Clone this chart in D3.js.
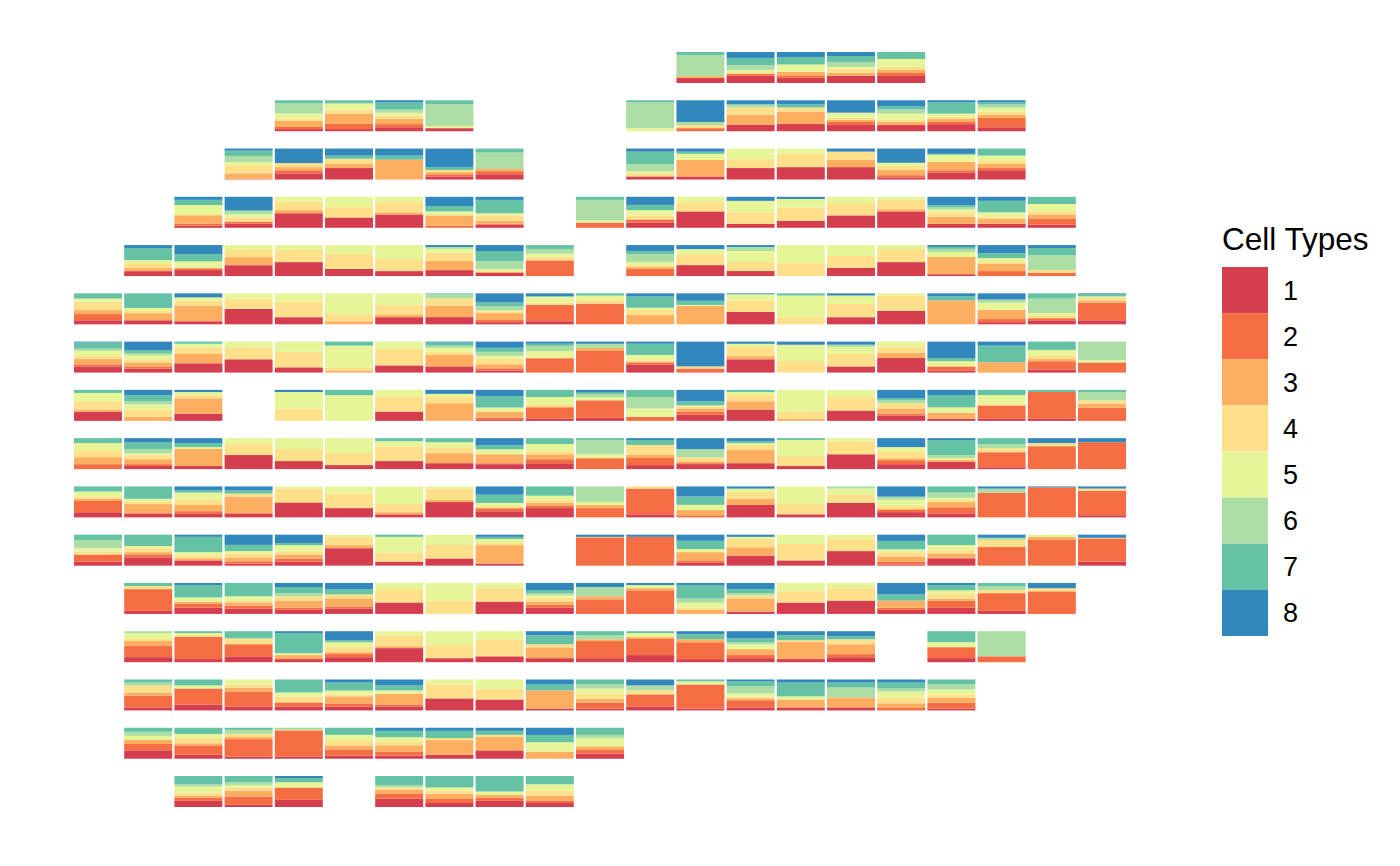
<!DOCTYPE html>
<html>
<head>
<meta charset="utf-8">
<script src="https://cdn.jsdelivr.net/npm/d3@7"></script>
<style>
    body { margin: 0; background: #fff; }
    text { font-family: "Liberation Sans", Arial, sans-serif; fill: #000; }
</style>
</head>
<body>
<svg id="chart" width="1400" height="866"></svg>
<script>
let cellTypes = ["1", "2", "3", "4", "5", "6", "7", "8"];
let typeColours = ["#D53E4F", "#F46D43", "#FDAE61", "#FEE08B", "#E6F598", "#ABDDA4", "#66C2A5", "#3288BD"];

// each spot: [column, share of type 1 .. type 8] (percent)
let row00 = [
    [12, 16, 0, 6, 0, 0, 68, 10, 0], [13, 23, 6, 0, 6, 6, 16, 23, 19], [14, 16, 6, 13, 0, 23, 0, 23, 16],
    [15, 23, 0, 10, 13, 6, 16, 19, 13], [16, 23, 10, 10, 10, 26, 0, 23, 0],
];
let row01 = [
    [4, 7, 7, 20, 7, 17, 33, 10, 0], [5, 7, 17, 33, 13, 20, 0, 10, 0], [6, 13, 10, 17, 10, 10, 10, 23, 7],
    [7, 10, 0, 0, 0, 7, 70, 13, 0], [11, 0, 0, 0, 0, 10, 83, 7, 0], [12, 0, 10, 0, 10, 0, 10, 0, 70],
    [13, 20, 0, 33, 23, 0, 10, 0, 13], [14, 23, 0, 40, 13, 0, 0, 10, 13], [15, 20, 10, 7, 7, 16, 0, 0, 40],
    [16, 20, 0, 10, 7, 20, 13, 10, 20], [17, 23, 7, 10, 7, 10, 0, 36, 7], [18, 13, 30, 10, 10, 13, 10, 7, 7],
];
let row02 = [
    [3, 0, 3, 17, 27, 10, 20, 17, 7], [4, 20, 10, 10, 13, 0, 0, 0, 47], [5, 37, 0, 13, 17, 0, 0, 10, 23],
    [6, 0, 0, 64, 0, 0, 0, 13, 23], [7, 10, 7, 7, 7, 0, 0, 10, 60], [8, 17, 10, 7, 0, 0, 53, 13, 0],
    [11, 10, 0, 0, 10, 7, 23, 40, 10], [12, 10, 0, 53, 0, 20, 0, 7, 10], [13, 37, 0, 0, 30, 33, 0, 0, 0],
    [14, 40, 0, 0, 43, 17, 0, 0, 0], [15, 40, 0, 23, 27, 0, 0, 0, 10], [16, 7, 7, 17, 13, 10, 0, 0, 46],
    [17, 23, 7, 27, 0, 23, 0, 3, 17], [18, 30, 7, 13, 10, 17, 0, 23, 0],
];
let row03 = [
    [2, 7, 7, 27, 0, 33, 0, 17, 10], [3, 13, 7, 0, 13, 10, 10, 3, 43], [4, 47, 0, 10, 27, 16, 0, 0, 0],
    [5, 33, 0, 0, 33, 33, 0, 0, 0], [6, 43, 0, 7, 33, 17, 0, 0, 0], [7, 0, 7, 33, 0, 13, 0, 17, 30],
    [8, 10, 3, 10, 17, 7, 0, 43, 10], [10, 0, 17, 0, 0, 7, 66, 10, 0], [11, 17, 10, 0, 13, 17, 0, 17, 26],
    [12, 53, 0, 0, 30, 17, 0, 0, 0], [13, 13, 0, 0, 37, 37, 0, 0, 13], [14, 23, 0, 0, 43, 27, 0, 0, 7],
    [15, 40, 0, 0, 40, 20, 0, 0, 0], [16, 53, 0, 7, 30, 10, 0, 0, 0], [17, 13, 0, 23, 13, 10, 7, 7, 27],
    [18, 13, 0, 17, 7, 13, 0, 37, 13], [19, 10, 20, 13, 10, 23, 0, 23, 0],
];
let row04 = [
    [1, 16, 0, 10, 16, 10, 0, 39, 10], [2, 19, 6, 0, 3, 19, 0, 23, 29], [3, 35, 0, 26, 23, 16, 0, 0, 0],
    [4, 45, 0, 0, 39, 16, 0, 0, 0], [5, 23, 0, 0, 48, 29, 0, 0, 0], [6, 16, 0, 0, 39, 45, 0, 0, 0],
    [7, 19, 0, 29, 26, 13, 6, 0, 6], [8, 10, 0, 3, 3, 6, 26, 32, 19], [9, 0, 52, 3, 10, 10, 16, 13, 0],
    [11, 0, 23, 6, 6, 10, 26, 10, 19], [12, 35, 0, 0, 35, 16, 0, 0, 13], [13, 16, 0, 0, 29, 35, 13, 0, 6],
    [14, 0, 0, 0, 42, 58, 0, 0, 0], [15, 26, 0, 0, 39, 35, 0, 0, 0], [16, 45, 0, 0, 42, 13, 0, 0, 0],
    [17, 6, 0, 55, 0, 16, 10, 6, 6], [18, 0, 16, 23, 6, 13, 0, 16, 26], [19, 0, 10, 0, 10, 0, 48, 23, 10],
];
let row05 = [
    [0, 13, 20, 13, 27, 10, 0, 17, 0], [1, 13, 0, 23, 7, 10, 0, 47, 0], [2, 10, 0, 50, 17, 10, 0, 0, 13],
    [3, 50, 0, 0, 33, 17, 0, 0, 0], [4, 23, 0, 0, 50, 27, 0, 0, 0], [5, 0, 0, 10, 23, 67, 0, 0, 0],
    [6, 23, 0, 7, 33, 37, 0, 0, 0], [7, 23, 0, 37, 23, 0, 13, 3, 0], [8, 7, 7, 23, 6, 3, 13, 13, 30],
    [9, 10, 53, 0, 7, 20, 0, 0, 10], [10, 0, 67, 0, 13, 13, 0, 7, 0], [11, 0, 0, 30, 17, 7, 0, 37, 10],
    [12, 0, 0, 57, 0, 3, 0, 13, 23], [13, 40, 0, 0, 37, 20, 0, 0, 3], [14, 0, 0, 0, 23, 70, 0, 7, 0],
    [15, 23, 0, 0, 43, 27, 0, 0, 7], [16, 43, 0, 0, 50, 7, 0, 0, 0], [17, 0, 0, 77, 0, 0, 0, 13, 10],
    [18, 7, 10, 30, 0, 23, 10, 0, 20], [19, 13, 7, 0, 10, 7, 47, 17, 0], [20, 13, 57, 7, 10, 3, 0, 7, 3],
];
let row06 = [
    [0, 20, 7, 17, 10, 17, 7, 20, 3], [1, 13, 7, 13, 10, 13, 7, 10, 27], [2, 30, 0, 30, 20, 13, 0, 7, 0],
    [3, 43, 0, 0, 37, 20, 0, 0, 0], [4, 17, 0, 0, 50, 33, 0, 0, 0], [5, 0, 0, 7, 10, 70, 0, 13, 0],
    [6, 23, 0, 0, 53, 23, 0, 0, 0], [7, 20, 0, 37, 10, 13, 7, 10, 3], [8, 7, 7, 13, 17, 10, 13, 13, 20],
    [9, 0, 47, 0, 3, 20, 17, 7, 7], [10, 0, 70, 10, 0, 0, 13, 0, 7], [11, 27, 7, 0, 7, 17, 0, 37, 7],
    [12, 0, 13, 0, 7, 0, 0, 0, 80], [13, 43, 0, 10, 30, 10, 0, 0, 7], [14, 0, 0, 0, 37, 53, 0, 0, 10],
    [15, 20, 0, 0, 40, 23, 7, 0, 10], [16, 47, 0, 17, 20, 16, 0, 0, 0], [17, 7, 13, 0, 0, 17, 0, 10, 53],
    [18, 0, 0, 33, 0, 0, 0, 53, 13], [19, 10, 27, 7, 13, 17, 0, 27, 0], [20, 0, 33, 0, 0, 7, 60, 0, 0],
];
let row07 = [
    [0, 30, 0, 7, 27, 27, 0, 10, 0], [1, 0, 0, 13, 23, 17, 10, 20, 17], [2, 23, 0, 50, 10, 10, 0, 0, 7],
    [4, 0, 0, 0, 40, 53, 0, 0, 7], [5, 0, 0, 0, 0, 83, 0, 17, 0], [6, 30, 0, 0, 47, 23, 0, 0, 0],
    [7, 0, 0, 57, 20, 10, 0, 0, 13], [8, 3, 7, 20, 0, 13, 0, 37, 20], [9, 7, 37, 0, 10, 23, 0, 23, 0],
    [10, 10, 57, 0, 0, 10, 10, 7, 7], [11, 0, 13, 0, 0, 27, 37, 23, 0], [12, 20, 10, 10, 7, 3, 0, 13, 37],
    [13, 37, 0, 27, 20, 10, 0, 7, 0], [14, 0, 0, 7, 23, 70, 0, 0, 0], [15, 33, 0, 0, 43, 23, 0, 0, 0],
    [16, 17, 7, 17, 17, 0, 10, 7, 27], [17, 7, 0, 20, 0, 17, 0, 40, 17], [18, 7, 43, 0, 7, 27, 0, 17, 0],
    [19, 7, 87, 0, 0, 0, 0, 7, 0], [20, 0, 43, 13, 10, 0, 27, 7, 0],
];
let row08 = [
    [0, 0, 16, 23, 23, 23, 0, 16, 0], [1, 10, 6, 16, 13, 6, 13, 23, 13], [2, 10, 0, 55, 0, 6, 0, 13, 16],
    [3, 45, 0, 0, 35, 19, 0, 0, 0], [4, 26, 0, 0, 39, 35, 0, 0, 0], [5, 13, 0, 0, 39, 48, 0, 0, 0],
    [6, 26, 0, 0, 48, 16, 0, 10, 0], [7, 19, 0, 32, 19, 16, 0, 13, 0], [8, 16, 3, 29, 0, 16, 0, 13, 23],
    [9, 19, 13, 16, 10, 23, 0, 19, 0], [10, 0, 35, 0, 0, 13, 45, 6, 0], [11, 13, 23, 10, 32, 0, 0, 16, 6],
    [12, 16, 3, 6, 13, 0, 26, 0, 35], [13, 19, 0, 42, 16, 6, 0, 6, 10], [14, 10, 0, 0, 32, 52, 0, 6, 0],
    [15, 48, 0, 0, 42, 10, 0, 0, 0], [16, 16, 13, 6, 23, 13, 0, 0, 29], [17, 23, 0, 6, 3, 3, 10, 48, 6],
    [18, 6, 48, 0, 13, 0, 13, 19, 0], [19, 0, 74, 0, 10, 0, 0, 0, 16], [20, 0, 87, 0, 0, 0, 0, 0, 13],
];
let row09 = [
    [0, 17, 37, 7, 7, 17, 0, 17, 0], [1, 13, 0, 30, 7, 10, 0, 40, 0], [2, 13, 7, 20, 17, 23, 0, 7, 13],
    [3, 13, 0, 53, 10, 0, 0, 10, 13], [4, 47, 0, 3, 43, 7, 0, 0, 0], [5, 30, 0, 0, 47, 23, 0, 0, 0],
    [6, 10, 0, 7, 27, 57, 0, 0, 0], [7, 50, 0, 7, 37, 7, 0, 0, 0], [8, 20, 10, 0, 7, 10, 0, 27, 27],
    [9, 30, 7, 10, 10, 13, 0, 30, 0], [10, 0, 30, 10, 0, 10, 50, 0, 0], [11, 10, 83, 0, 7, 0, 0, 0, 0],
    [12, 0, 7, 17, 0, 17, 0, 27, 33], [13, 40, 0, 20, 23, 10, 0, 0, 7], [14, 10, 0, 0, 33, 57, 0, 0, 0],
    [15, 47, 0, 0, 27, 20, 7, 0, 0], [16, 17, 7, 3, 10, 20, 10, 0, 33], [17, 13, 20, 17, 7, 7, 17, 20, 0],
    [18, 0, 80, 0, 0, 0, 13, 0, 7], [19, 0, 97, 0, 0, 0, 0, 0, 3], [20, 7, 80, 0, 7, 0, 0, 0, 7],
];
let row10 = [
    [0, 13, 23, 0, 10, 10, 27, 17, 0], [1, 27, 10, 7, 13, 7, 0, 37, 0], [2, 17, 0, 7, 10, 10, 0, 50, 7],
    [3, 7, 7, 13, 13, 7, 0, 20, 33], [4, 13, 10, 13, 10, 20, 0, 7, 27], [5, 57, 0, 10, 27, 7, 0, 0, 0],
    [6, 13, 0, 0, 30, 50, 0, 7, 0], [7, 23, 0, 0, 43, 33, 0, 0, 0], [8, 7, 0, 60, 7, 13, 0, 7, 7],
    [10, 0, 90, 3, 0, 0, 0, 0, 7], [11, 0, 93, 0, 0, 0, 0, 0, 7], [12, 10, 7, 27, 0, 10, 0, 27, 20],
    [13, 33, 0, 27, 27, 7, 0, 0, 7], [14, 17, 0, 0, 53, 30, 0, 0, 0], [15, 47, 0, 0, 40, 13, 0, 0, 0],
    [16, 3, 10, 17, 13, 10, 0, 27, 20], [17, 23, 3, 13, 10, 17, 0, 33, 0], [18, 0, 60, 0, 23, 0, 7, 0, 10],
    [19, 0, 83, 10, 0, 7, 0, 0, 0], [20, 13, 73, 3, 0, 0, 0, 0, 10],
];
let row11 = [
    [1, 10, 70, 0, 10, 0, 0, 10, 0], [2, 20, 13, 7, 0, 13, 0, 40, 7], [3, 17, 10, 10, 7, 13, 0, 43, 0],
    [4, 13, 7, 23, 13, 0, 10, 20, 13], [5, 17, 7, 27, 13, 0, 0, 17, 20], [6, 37, 0, 0, 43, 20, 0, 0, 0],
    [7, 0, 0, 0, 43, 57, 0, 0, 0], [8, 40, 0, 0, 43, 17, 0, 0, 0], [9, 20, 10, 10, 13, 7, 7, 10, 23],
    [10, 0, 47, 10, 0, 0, 30, 0, 13], [11, 0, 77, 7, 0, 10, 0, 0, 7], [12, 0, 0, 13, 7, 17, 13, 43, 7],
    [13, 7, 0, 43, 10, 0, 7, 13, 20], [14, 37, 0, 0, 37, 27, 0, 0, 0], [15, 43, 0, 0, 40, 17, 0, 0, 0],
    [16, 13, 7, 23, 0, 0, 0, 20, 37], [17, 20, 23, 7, 17, 10, 0, 17, 7], [18, 10, 57, 0, 10, 0, 13, 10, 0],
    [19, 0, 73, 0, 10, 0, 0, 0, 17],
];
let row12 = [
    [1, 16, 35, 16, 6, 19, 6, 0, 0], [2, 10, 71, 0, 6, 6, 0, 6, 0], [3, 19, 39, 0, 19, 0, 0, 23, 0],
    [4, 10, 0, 13, 0, 6, 0, 65, 6], [5, 16, 10, 6, 16, 16, 0, 6, 29], [6, 45, 0, 6, 35, 13, 0, 0, 0],
    [7, 13, 0, 0, 42, 45, 0, 0, 0], [8, 19, 0, 0, 55, 26, 0, 0, 0], [9, 13, 0, 35, 10, 0, 0, 29, 13],
    [10, 13, 55, 6, 0, 0, 13, 13, 0], [11, 23, 52, 6, 0, 13, 0, 6, 0], [12, 10, 55, 10, 0, 0, 0, 16, 10],
    [13, 13, 10, 19, 0, 16, 6, 13, 23], [14, 10, 0, 55, 6, 0, 0, 16, 13], [15, 16, 10, 32, 16, 0, 0, 10, 16],
    [17, 13, 35, 0, 0, 16, 0, 35, 0], [18, 0, 19, 0, 0, 0, 81, 0, 0],
];
let row13 = [
    [1, 10, 39, 10, 23, 0, 10, 10, 0], [2, 19, 52, 0, 0, 10, 0, 19, 0], [3, 13, 48, 13, 10, 16, 0, 0, 0],
    [4, 13, 13, 0, 19, 13, 0, 42, 0], [5, 13, 10, 23, 6, 13, 0, 26, 10], [6, 13, 6, 35, 0, 10, 0, 16, 19],
    [7, 39, 0, 0, 45, 16, 0, 0, 0], [8, 35, 0, 0, 35, 29, 0, 0, 0], [9, 6, 0, 58, 0, 0, 0, 19, 16],
    [10, 6, 19, 13, 16, 16, 13, 16, 0], [11, 13, 39, 0, 13, 0, 16, 0, 19], [12, 6, 77, 0, 0, 10, 0, 6, 0],
    [13, 10, 23, 6, 6, 10, 23, 16, 6], [14, 10, 0, 26, 0, 10, 0, 45, 10], [15, 10, 0, 32, 0, 0, 32, 16, 10],
    [16, 0, 10, 13, 19, 19, 10, 19, 10], [17, 6, 19, 16, 10, 16, 16, 16, 0],
];
let row14 = [
    [1, 27, 20, 13, 0, 13, 13, 13, 0], [2, 13, 30, 7, 17, 13, 0, 20, 0], [3, 7, 57, 7, 10, 0, 13, 7, 0],
    [4, 7, 83, 3, 0, 0, 7, 0, 0], [5, 10, 20, 13, 17, 17, 0, 23, 0], [6, 10, 13, 20, 13, 13, 0, 20, 10],
    [7, 13, 0, 47, 7, 0, 0, 23, 10], [8, 27, 0, 43, 7, 0, 0, 13, 10], [9, 0, 0, 23, 0, 30, 0, 23, 23],
    [10, 17, 13, 10, 0, 27, 10, 23, 0],
];
let row15 = [
    [2, 20, 10, 7, 10, 20, 7, 27, 0], [3, 7, 27, 20, 10, 7, 10, 20, 0], [4, 23, 40, 0, 0, 17, 0, 13, 7],
    [6, 27, 17, 13, 7, 0, 7, 30, 0], [7, 13, 13, 17, 10, 10, 0, 37, 0], [8, 20, 10, 10, 0, 10, 0, 50, 0],
    [9, 13, 7, 17, 17, 20, 0, 27, 0],
];
let spotRows = [row00, row01, row02, row03, row04, row05, row06, row07,
    row08, row09, row10, row11, row12, row13, row14, row15];

let spots = [];
spotRows.forEach((row, rowIndex) => {
    for (let spot of row) {
        spots.push({ row: rowIndex, col: spot[0], values: spot.slice(1) });
    }
});

let svg = d3.select("#chart");

let x = d3.scaleBand()
    .domain(d3.range(21))
    .range([74, 1126])
    .paddingInner(0.044);
let y = d3.scaleBand()
    .domain(d3.range(spotRows.length))
    .range([52, 807])
    .paddingInner(0.358);
let share = d3.scaleLinear()
    .domain([0, 1])
    .range([y.bandwidth(), 0]);
let colour = d3.scaleOrdinal()
    .domain(cellTypes)
    .range(typeColours);

let series = d3.stack()
    .keys(d3.range(cellTypes.length))
    .value((d, k) => d.values[k])
    .offset(d3.stackOffsetExpand)(spots);

svg.append("g")
    .selectAll("g")
    .data(series)
    .join("g")
    .attr("fill", s => colour(cellTypes[s.key]))
    .selectAll("rect")
    .data(s => s.filter(d => d[1] > d[0]))
    .join("rect")
    .attr("x", d => x(d.data.col))
    .attr("y", d => y(d.data.row) + share(d[1]))
    .attr("width", x.bandwidth())
    .attr("height", d => share(d[0]) - share(d[1]));

// legend
let legend = svg.append("g").attr("transform", "translate(1222, 0)");
legend.append("text")
    .attr("x", 0)
    .attr("y", 250)
    .attr("font-size", 31.5)
    .text("Cell Types");

let key = d3.scaleBand()
    .domain(cellTypes)
    .range([267, 636]);
legend.selectAll("rect")
    .data(cellTypes)
    .join("rect")
    .attr("x", 0)
    .attr("y", d => key(d))
    .attr("width", 46)
    .attr("height", key.bandwidth())
    .attr("fill", d => colour(d));
legend.selectAll("text.label")
    .data(cellTypes)
    .join("text")
    .attr("class", "label")
    .attr("x", 61)
    .attr("y", d => key(d) + key.bandwidth() / 2)
    .attr("dy", "0.35em")
    .attr("font-size", 27)
    .text(d => d);
</script>
</body>
</html>
